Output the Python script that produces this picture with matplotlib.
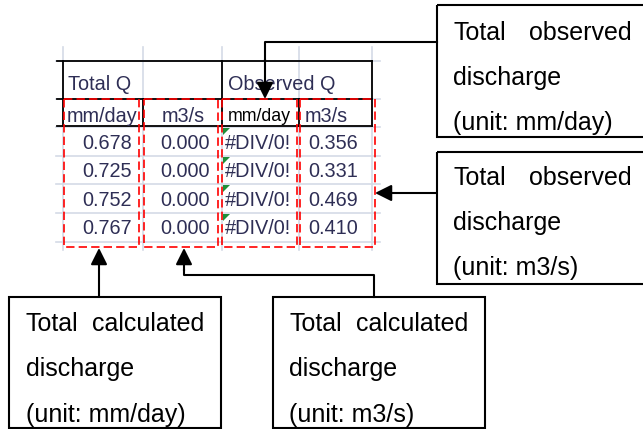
"""Annotated spreadsheet snippet: total calculated vs observed discharge."""
import matplotlib.pyplot as plt
from matplotlib.patches import Rectangle, Polygon

plt.rcParams['font.family'] = ['Liberation Sans', 'DejaVu Sans']

# spreadsheet content
group_labels = ['Total Q', 'Observed Q']
unit_labels = ['mm/day', 'm3/s', 'mm/day', 'm3/s']
calc_mm = ['0.678', '0.725', '0.752', '0.767']
calc_m3 = ['0.000', '0.000', '0.000', '0.000']
obs_mm = ['#DIV/0!', '#DIV/0!', '#DIV/0!', '#DIV/0!']
obs_m3 = ['0.356', '0.331', '0.469', '0.410']

# callout texts: (first word, second word, line 2, line 3)
callouts = {
    'obs_mm': ('Total', 'observed', 'discharge', '(unit: mm/day)'),
    'obs_m3': ('Total', 'observed', 'discharge', '(unit: m3/s)'),
    'calc_mm': ('Total', 'calculated', 'discharge', '(unit: mm/day)'),
    'calc_m3': ('Total', 'calculated', 'discharge', '(unit: m3/s)'),
}

W, H = 643, 429
fig = plt.figure(figsize=(W / 100, H / 100), dpi=100)
ax = fig.add_axes([0, 0, 1, 1])
ax.set_xlim(0, W)
ax.set_ylim(H, 0)
ax.axis('off')

col_x = [63, 143, 222, 299, 372]
row_y = [61, 99, 127, 156, 184, 213, 242]
grid_c = '#d4dae6'
txt_c = '#2e2e55'
fs = 14.3

# light grid lines
for x in col_x:
    ax.plot([x, x], [47, 250], color=grid_c, lw=1.2, zorder=1)
for y in row_y:
    ax.plot([56, 380], [y, y], color=grid_c, lw=1.2, zorder=1)

# black header borders
k = dict(color='black', lw=1.3, zorder=3)
ax.plot([57, 372], [61, 61], **k)
ax.plot([57, 372], [99, 99], **k)
ax.plot([57, 372], [126, 126], **k)
ax.plot([63, 63], [61, 126], **k)
ax.plot([372, 372], [61, 126], **k)
ax.plot([222, 222], [61, 126], **k)
for x in [143, 299]:
    ax.plot([x, x], [99, 126], **k)

# header text
ax.text(68, 90, group_labels[0], fontsize=fs, color=txt_c, va='baseline')
ax.text(228, 90, group_labels[1], fontsize=fs, color=txt_c, va='baseline')
ax.text(102, 122, unit_labels[0], fontsize=fs, color=txt_c, ha='center', va='baseline')
ax.text(183, 122, unit_labels[1], fontsize=fs, color=txt_c, ha='center', va='baseline')
ax.text(259, 121, unit_labels[2], fontsize=12.8, color='black', ha='center', va='baseline')
ax.text(305, 122, unit_labels[3], fontsize=fs, color=txt_c, va='baseline')

# data rows
base = [149, 177, 205.5, 234]
for i, yb in enumerate(base):
    ax.text(132, yb, calc_mm[i], fontsize=fs, color=txt_c, ha='right', va='baseline')
    ax.text(210, yb, calc_m3[i], fontsize=fs, color=txt_c, ha='right', va='baseline')
    ax.text(225, yb, obs_mm[i], fontsize=fs, color=txt_c, va='baseline')
    ax.text(358, yb, obs_m3[i], fontsize=fs, color=txt_c, ha='right', va='baseline')
    top = row_y[i + 2] + 1
    ax.add_patch(Polygon([[223, top], [230, top], [223, top + 7]],
                         closed=True, color='#1f8f3a', lw=0, zorder=4))

# red dashed column boxes
for x0, x1 in [(64, 139), (144, 218), (222, 297), (300, 375)]:
    ax.add_patch(Rectangle((x0, 99), x1 - x0, 148, fill=False, ec='red',
                           lw=1.2, ls=(0, (5, 2.5)), zorder=5))

# callout boxes
def callout(x0, x1, y0, y1, tx_left, tx_right, yb, words):
    ax.add_patch(Rectangle((x0, y0), x1 - x0, y1 - y0, fill=False,
                           ec='black', lw=1.5, zorder=6))
    ax.text(tx_left, yb[0], words[0], fontsize=18, va='baseline')
    ax.text(tx_right, yb[0], words[1], fontsize=18, ha='right', va='baseline')
    ax.text(tx_left, yb[1], words[2], fontsize=18, va='baseline')
    ax.text(tx_left, yb[2], words[3], fontsize=18, va='baseline')


callout(437, 700, 5, 137, 453, 632, [40, 85, 130], callouts['obs_mm'])
callout(437, 700, 152, 284, 453, 632, [185, 230, 275], callouts['obs_m3'])
callout(9, 221, 297, 427.5, 26, 204, [331, 376, 422], callouts['calc_mm'])
callout(273, 485, 297, 427.5, 289, 468, [331, 376, 422], callouts['calc_m3'])

# connector arrows
arr = dict(arrowstyle='-|>,head_length=0.5,head_width=0.25', color='black',
           lw=1.5, mutation_scale=20, shrinkA=0, shrinkB=0)
ax.plot([437, 265, 265], [42, 42, 60], color='black', lw=1.5)
ax.annotate('', xy=(265, 99), xytext=(265, 59), arrowprops=arr)
ax.annotate('', xy=(375, 193), xytext=(436, 193), arrowprops=arr)
ax.annotate('', xy=(99, 248), xytext=(99, 297), arrowprops=arr)
ax.plot([374, 374, 184, 184], [297, 275, 275, 270], color='black', lw=1.5)
ax.annotate('', xy=(184, 248), xytext=(184, 271), arrowprops=arr)

fig.savefig('out.png', dpi=100)
